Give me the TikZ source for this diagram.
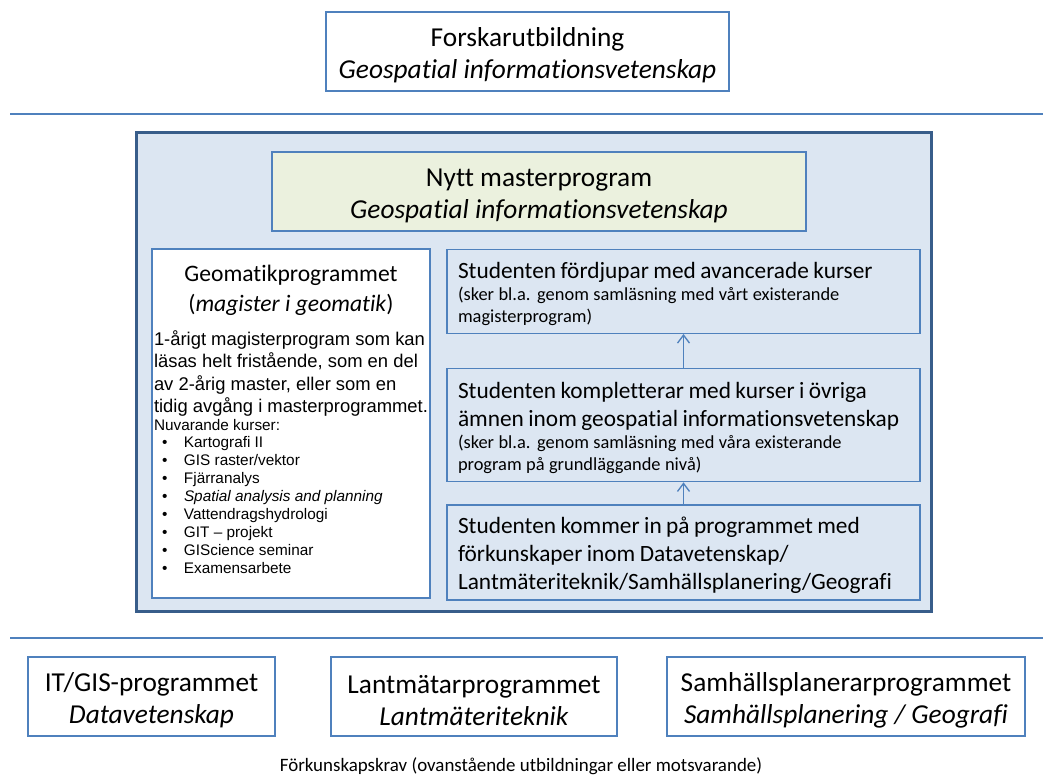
\documentclass[tikz,border=0pt]{standalone}
\usepackage{fontspec}
\setmainfont{Carlito}[Ligatures=NoCommon]
\newfontfamily\arialfont{Liberation Sans}
\usetikzlibrary{arrows.meta, positioning}

\definecolor{boxblue}{RGB}{79,129,189}
\definecolor{frameblue}{RGB}{56,93,138}
\definecolor{panelfill}{RGB}{220,230,242}
\definecolor{greenfill}{RGB}{235,241,222}

\newcommand{\kurs}[1]{\hspace*{6pt}\makebox[16.5pt][l]{\textbullet}#1}

\begin{document}
\begin{tikzpicture}[x=0.75pt, y=-0.75pt, >={Straight Barb[length=6pt, width=9pt]},
        prog/.style={rectangle, draw=boxblue, line width=1pt, fill=white, align=flush center, text width=#1, minimum height=59.25pt, inner sep=0pt, font=\fontsize{20.5}{24}\selectfont, execute at begin node={\rule{0pt}{19.5pt}}},
        stage/.style={rectangle, draw=boxblue, line width=1pt, text width=338.25pt, inner xsep=8.25pt, inner ysep=0pt, align=left},
        sep/.style={draw=boxblue, line width=1.5pt}]

        \useasboundingbox (0,0) rectangle (1043,778);

        % forskarutbildning
        \node[prog=302.25pt] (forskar) at (527.5,51.5) {Forskarutbildning\\\textit{Geospatial informationsvetenskap}};

        \coordinate (topL) at (10,114);
        \coordinate (topR) at (1043,114);
        \draw[sep] (topL) -- (topR);

        % the master programme
        \node[rectangle, draw=frameblue, line width=2.25pt, fill=panelfill, minimum width=596.6pt, minimum height=359.6pt] (master) at (534.25,372.25) {};

        \node[prog=400.5pt, fill=greenfill] (nytt) at (539,191.5) {Nytt masterprogram\\\textit{Geospatial informationsvetenskap}};

        \node[rectangle, draw=boxblue, line width=1pt, fill=white, text width=205.5pt, inner xsep=1.5pt, inner ysep=0pt, minimum height=261.75pt, align=flush center] (geomatik) at (291,423.5) {%
            {\fontsize{17.7}{22.5}\selectfont Geomatikprogrammet\\(\textit{magister i geomatik})\par}
            \vspace{9.5pt}
            {\raggedright\arialfont\fontsize{13.8}{16.6}\selectfont 1-årigt magisterprogram som kan\\läsas helt fristående, som en del\\av 2-årig master, eller som en\\tidig avgång i masterprogrammet.\par}
            {\raggedright\arialfont\fontsize{11.5}{13.4}\selectfont Nuvarande kurser:\\
            \kurs{Kartografi II}\\
            \kurs{GIS raster/vektor}\\
            \kurs{Fjärranalys}\\
            \kurs{\textit{Spatial analysis and planning}}\\
            \kurs{Vattendragshydrologi}\\
            \kurs{GIT – projekt}\\
            \kurs{GIScience seminar}\\
            \kurs{Examensarbete}\rule[-7pt]{0pt}{0pt}\par}};

        \node[stage, minimum height=71.25pt] (kommer) at (683.5,552.5) {%
            {\fontsize{17.5}{21}\selectfont\rule{0pt}{16pt}Studenten kommer in på programmet med\\förkunskaper inom Datavetenskap/\\Lantmäteriteknik/Samhällsplanering/Geografi\par}};
        \node[stage, minimum height=84.75pt, above=16.5pt of kommer] (komplett) {%
            {\fontsize{17.5}{21}\selectfont\rule{0pt}{16pt}Studenten kompletterar med kurser i övriga\\ämnen inom geospatial informationsvetenskap\par}
            {\fontsize{13.8}{16.5}\selectfont (sker bl.a. genom samläsning med våra existerande\\program på grundläggande nivå)\par}};
        \node[stage, minimum height=63pt, above=25.5pt of komplett] (fordjup) {%
            {\fontsize{17.5}{21}\selectfont\rule{0pt}{16pt}Studenten fördjupar med avancerade kurser\par}
            {\fontsize{13.8}{16.5}\selectfont (sker bl.a. genom samläsning med vårt existerande\\magisterprogram)\par}};

        \draw[->, draw=boxblue, line width=1pt] (kommer.north) -- (komplett.south);
        \draw[->, draw=boxblue, line width=1pt] (komplett.north) -- (fordjup.south);

        \coordinate (botL) at (10,638);
        \coordinate (botR) at (1043,638);
        \draw[sep] (botL) -- (botR);

        % programmes giving the entry requirements
        \node[prog=185.25pt] (itgis) at (151.5,696.5) {IT/GIS-programmet\\\textit{Datavetenskap}};
        \node[prog=214.5pt] (lantm) at (474,696.5) {Lantmätarprogrammet\\\textit{Lantmäteriteknik}};
        \node[prog=268.5pt] (samh) at (846,696.5) {Samhällsplanerarprogrammet\\\textit{Samhällsplanering / Geografi}};

        \node[font=\fontsize{14.2}{16}\selectfont] (krav) at (521,766) {Förkunskapskrav (ovanstående utbildningar eller motsvarande)};

    \end{tikzpicture}
\end{document}
